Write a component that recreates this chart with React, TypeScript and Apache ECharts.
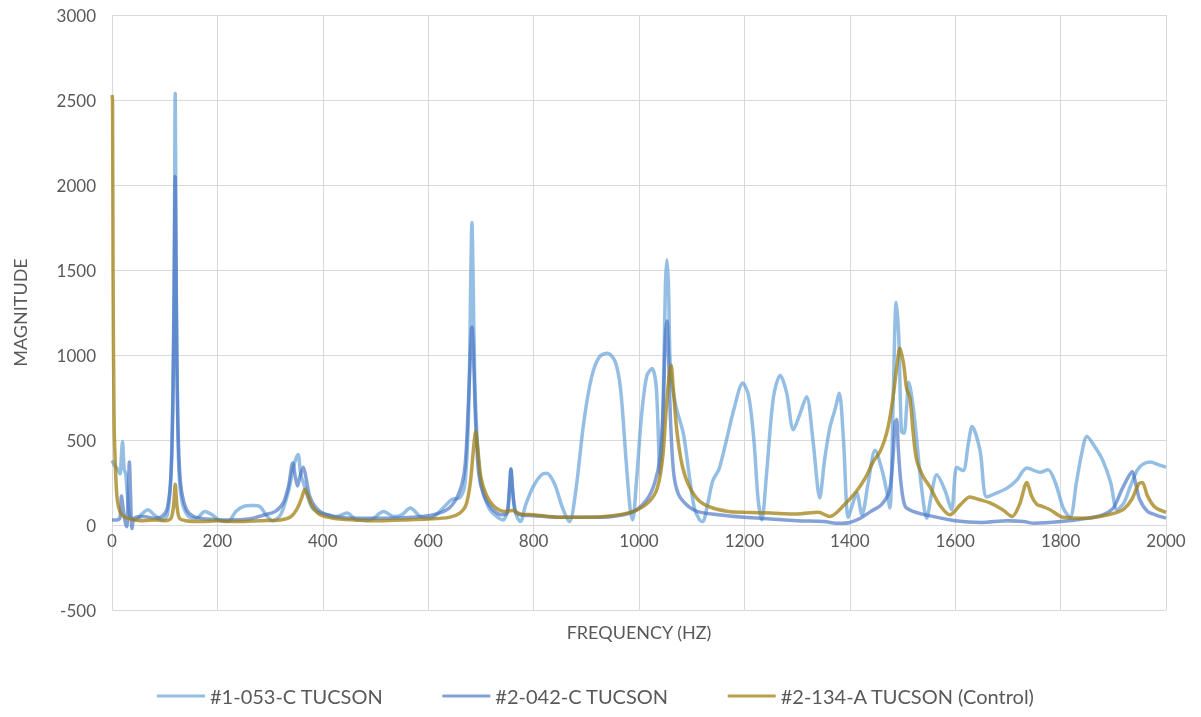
import React, { useEffect, useRef } from "react";
import * as echarts from "echarts";

const seriesNames = ["#1-053-C TUCSON", "#2-042-C TUCSON", "#2-134-A TUCSON (Control)"];
const yTicks = { min: -500, max: 3000, interval: 500 };
const xTicks = { min: 0, max: 2000, interval: 200 };

// [frequency (Hz), magnitude]
const s1: [number, number][] = [
  [0,380],[5,350],[10,330],[15,300],[18,420],[20,490],[23,330],[26,300],[30,150],[35,40],[45,30],[55,60],[68,90],[80,60],[95,30],[105,60],[112,300],[116,900],[118,1500],[120,2540],[122,1400],[126,400],[132,150],[145,50],[160,40],[176,80],[190,60],[205,25],[220,20],[235,80],[250,110],[265,115],[280,110],[292,60],[305,25],[320,60],[335,200],[345,350],[353,415],[358,300],[363,250],[370,180],[380,100],[395,70],[410,60],[425,50],[446,70],[465,30],[490,30],[515,80],[535,50],[550,60],[566,100],[585,50],[605,40],[625,90],[645,150],[660,160],[670,250],[677,700],[681,1500],[683,1780],[685,1500],[688,900],[693,500],[700,250],[715,100],[730,50],[742,30],[750,80],[755,250],[757,330],[760,200],[767,60],[775,20],[785,120],[800,230],[815,295],[825,305],[840,240],[855,100],[868,20],[880,200],[895,600],[910,870],[925,990],[940,1010],[955,960],[965,800],[975,400],[983,100],[988,30],[995,250],[1005,650],[1015,880],[1025,920],[1033,800],[1040,300],[1045,600],[1050,1400],[1053,1560],[1056,1400],[1060,900],[1070,700],[1084,540],[1095,300],[1105,100],[1115,30],[1121,20],[1130,120],[1140,260],[1152,330],[1166,500],[1180,680],[1197,835],[1208,760],[1218,500],[1226,150],[1233,30],[1242,300],[1255,750],[1268,880],[1280,780],[1293,560],[1305,650],[1318,755],[1330,500],[1343,160],[1352,380],[1362,570],[1372,680],[1380,775],[1388,500],[1397,45],[1405,120],[1413,190],[1423,60],[1435,250],[1448,440],[1461,325],[1470,200],[1476,100],[1482,700],[1488,1310],[1493,1100],[1498,550],[1503,540],[1508,700],[1512,840],[1520,700],[1527,500],[1535,250],[1546,40],[1555,180],[1565,295],[1581,200],[1593,90],[1603,340],[1615,320],[1625,480],[1632,580],[1647,440],[1660,165],[1680,190],[1700,220],[1717,265],[1736,335],[1761,310],[1776,325],[1790,250],[1805,100],[1818,45],[1830,250],[1840,420],[1850,520],[1865,460],[1880,380],[1895,250],[1907,90],[1920,130],[1932,225],[1945,320],[1955,355],[1970,370],[1985,355],[2000,340]
];

const s2: [number, number][] = [
  [0,30],[8,30],[15,40],[18,170],[21,100],[25,20],[28,-10],[31,200],[33,370],[35,200],[38,-20],[42,40],[60,50],[80,40],[95,50],[105,100],[112,300],[116,800],[118,1400],[120,2050],[122,1300],[125,600],[130,250],[140,100],[155,50],[180,35],[220,30],[260,35],[290,60],[310,80],[325,130],[335,230],[343,365],[348,280],[352,230],[357,290],[363,340],[368,280],[375,170],[385,110],[400,70],[430,45],[470,40],[520,40],[570,45],[610,60],[640,100],[660,200],[670,350],[676,700],[680,1000],[683,1165],[686,1000],[690,600],[696,300],[705,180],[720,100],[740,60],[750,70],[754,200],[757,330],[760,220],[765,80],[775,60],[800,55],[850,45],[900,45],[950,50],[990,80],[1015,150],[1030,250],[1040,400],[1046,700],[1050,1100],[1053,1200],[1056,1000],[1060,600],[1066,300],[1075,180],[1090,120],[1110,80],[1150,60],[1200,45],[1250,35],[1300,25],[1350,20],[1380,10],[1400,15],[1420,40],[1440,80],[1460,120],[1475,200],[1482,400],[1486,600],[1489,620],[1492,450],[1497,250],[1505,110],[1520,80],[1550,55],[1600,25],[1650,15],[1700,25],[1730,20],[1750,10],[1800,20],[1850,40],[1880,60],[1900,100],[1915,200],[1928,280],[1936,315],[1942,250],[1950,150],[1965,80],[1980,60],[2000,40]
];

const s3: [number, number][] = [
  [0,2530],[1,2500],[2,1500],[4,600],[7,300],[10,150],[15,80],[22,50],[30,40],[45,30],[60,25],[80,30],[100,25],[112,40],[117,120],[120,240],[123,120],[128,40],[140,25],[170,20],[200,25],[240,20],[280,25],[320,30],[340,50],[352,100],[360,160],[366,210],[372,170],[380,110],[395,60],[420,40],[460,30],[500,25],[550,30],[600,35],[640,45],[660,70],[672,120],[680,250],[686,450],[690,550],[694,450],[700,280],[710,180],[725,110],[745,80],[760,85],[775,65],[800,60],[850,45],[900,45],[950,55],[990,80],[1020,140],[1035,220],[1045,400],[1052,700],[1058,900],[1061,940],[1065,800],[1072,550],[1082,350],[1095,230],[1115,140],[1140,100],[1170,80],[1200,75],[1250,70],[1300,65],[1340,75],[1362,50],[1390,120],[1413,200],[1430,280],[1444,370],[1457,430],[1466,500],[1473,580],[1482,750],[1490,950],[1495,1040],[1502,950],[1508,800],[1514,750],[1520,550],[1527,380],[1540,280],[1552,225],[1570,120],[1590,60],[1610,120],[1628,165],[1645,150],[1666,130],[1690,90],[1708,50],[1722,120],[1736,250],[1745,170],[1755,120],[1765,110],[1780,90],[1805,45],[1850,40],[1890,60],[1918,90],[1935,150],[1948,240],[1955,250],[1965,170],[1979,105],[2000,75]
];

const colors = ["rgba(91,155,213,0.65)", "rgba(68,114,196,0.66)", "rgba(160,128,20,0.75)"];

export default function App() {
  const ref = useRef<HTMLDivElement>(null);
  useEffect(() => {
    if (!ref.current) return;
    const chart = echarts.init(ref.current, undefined, { renderer: "svg" });
    const font = "Lato, 'Open Sans', sans-serif";
    const labelStyle = { color: "#595959", fontSize: 17, fontFamily: font };
    chart.setOption({
      animation: false,
      grid: { left: 112, right: 35, top: 15, bottom: 107, containLabel: false },
      xAxis: {
        type: "value",
        min: xTicks.min,
        max: xTicks.max,
        interval: xTicks.interval,
        name: "FREQUENCY (HZ)",
        nameLocation: "middle",
        nameGap: 13,
        nameMoveOverlap: false,
        nameTextStyle: { ...labelStyle, fontSize: 18 },
        axisLine: { show: true, onZero: true, lineStyle: { color: "#d9d9d9", width: 1 } },
        axisTick: { show: false },
        axisLabel: { ...labelStyle, margin: -78, formatter: (v: number) => String(v) },
        splitLine: { show: true, lineStyle: { color: "#d9d9d9", width: 1 } },
      },
      yAxis: {
        type: "value",
        min: yTicks.min,
        max: yTicks.max,
        interval: yTicks.interval,
        name: "MAGNITUDE",
        nameLocation: "middle",
        nameGap: 83,
        nameRotate: 90,
        nameTextStyle: { ...labelStyle, fontSize: 18 },
        axisLine: { show: false },
        axisTick: { show: false },
        axisLabel: { ...labelStyle, margin: 16, formatter: (v: number) => String(v) },
        splitLine: { show: true, lineStyle: { color: "#d9d9d9", width: 1 } },
      },
      legend: {
        top: 686,
        left: 157,
        padding: 0,
        itemWidth: 48,
        itemHeight: 3,
        itemGap: 59,
        textStyle: { ...labelStyle, fontSize: 20 },
        data: seriesNames.map((n, i) => ({ name: n, icon: "rect", itemStyle: { color: colors[i] } })),
      },
      series: [s1, s2, s3].map((d, i) => ({
        name: seriesNames[i],
        type: "line",
        data: d,
        symbol: "none",
        smooth: 0.3,
        lineStyle: { color: colors[i], width: 3.5 },
        itemStyle: { color: colors[i] },
        z: 2 + i,
      })),
    });
    return () => chart.dispose();
  }, []);
  return <div ref={ref} style={{ position: "fixed", left: 0, top: 0, width: 1201, height: 717 }} />;
}
